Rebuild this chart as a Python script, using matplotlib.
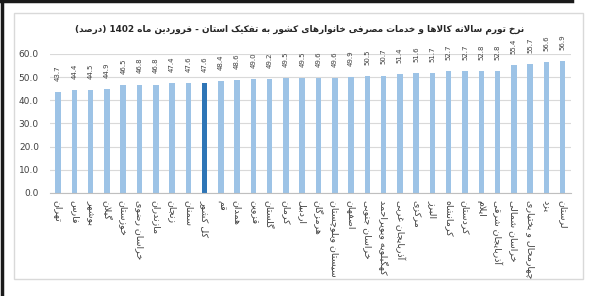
import matplotlib
matplotlib.use("Agg")
import matplotlib.pyplot as plt
from matplotlib.patches import Rectangle
from matplotlib.lines import Line2D

# data
provinces = ["تهران", "فارس", "بوشهر", "گیلان", "خوزستان", "خراسان رضوی",
             "مازندران", "زنجان", "سمنان", "کل کشور", "قم", "همدان", "قزوین",
             "گلستان", "کرمان", "اردبیل", "هرمزگان", "سیستان وبلوچستان",
             "اصفهان", "خراسان جنوبی", "کهگیلویه وبویراحمد", "آذربایجان غربی",
             "مرکزی", "البرز", "کرمانشاه", "کردستان", "ایلام",
             "آذربایجان شرقی", "خراسان شمالی", "چهارمحال و بختیاری", "یزد",
             "لرستان"]
inflation = [43.7, 44.4, 44.5, 44.9, 46.5, 46.8, 46.8, 47.4, 47.6, 47.6,
             48.4, 48.6, 49.0, 49.2, 49.5, 49.5, 49.6, 49.6, 49.9, 50.5,
             50.7, 51.4, 51.6, 51.7, 52.7, 52.7, 52.8, 52.8, 55.4, 55.7,
             56.6, 56.9]
total_label = "کل کشور"
title = "نرخ تورم سالانه کالاها و خدمات مصرفی خانوارهای کشور به تفکیک استان - فروردین ماه 1402 (درصد)"

# presentation forms: isolated, final, initial, medial
FORMS = {
    'ا': (0xFE8D, 0xFE8E, None, None), 'آ': (0xFE81, 0xFE82, None, None),
    'ب': (0xFE8F, 0xFE90, 0xFE91, 0xFE92), 'پ': (0xFB56, 0xFB57, 0xFB58, 0xFB59),
    'ت': (0xFE95, 0xFE96, 0xFE97, 0xFE98), 'ث': (0xFE99, 0xFE9A, 0xFE9B, 0xFE9C),
    'ج': (0xFE9D, 0xFE9E, 0xFE9F, 0xFEA0), 'چ': (0xFB7A, 0xFB7B, 0xFB7C, 0xFB7D),
    'ح': (0xFEA1, 0xFEA2, 0xFEA3, 0xFEA4), 'خ': (0xFEA5, 0xFEA6, 0xFEA7, 0xFEA8),
    'د': (0xFEA9, 0xFEAA, None, None), 'ذ': (0xFEAB, 0xFEAC, None, None),
    'ر': (0xFEAD, 0xFEAE, None, None), 'ز': (0xFEAF, 0xFEB0, None, None),
    'ژ': (0xFB8A, 0xFB8B, None, None),
    'س': (0xFEB1, 0xFEB2, 0xFEB3, 0xFEB4), 'ش': (0xFEB5, 0xFEB6, 0xFEB7, 0xFEB8),
    'ص': (0xFEB9, 0xFEBA, 0xFEBB, 0xFEBC), 'ض': (0xFEBD, 0xFEBE, 0xFEBF, 0xFEC0),
    'ط': (0xFEC1, 0xFEC2, 0xFEC3, 0xFEC4), 'ظ': (0xFEC5, 0xFEC6, 0xFEC7, 0xFEC8),
    'ع': (0xFEC9, 0xFECA, 0xFECB, 0xFECC), 'غ': (0xFECD, 0xFECE, 0xFECF, 0xFED0),
    'ف': (0xFED1, 0xFED2, 0xFED3, 0xFED4), 'ق': (0xFED5, 0xFED6, 0xFED7, 0xFED8),
    'ک': (0xFB8E, 0xFB8F, 0xFB90, 0xFB91), 'گ': (0xFB92, 0xFB93, 0xFB94, 0xFB95),
    'ل': (0xFEDD, 0xFEDE, 0xFEDF, 0xFEE0), 'م': (0xFEE1, 0xFEE2, 0xFEE3, 0xFEE4),
    'ن': (0xFEE5, 0xFEE6, 0xFEE7, 0xFEE8), 'ه': (0xFEE9, 0xFEEA, 0xFEEB, 0xFEEC),
    'و': (0xFEED, 0xFEEE, None, None), 'ی': (0xFBFC, 0xFBFD, 0xFBFE, 0xFBFF),
}


def shape(s):
    # join letters, lam-alef ligature, then put in visual order
    chars = list(s)
    out = []
    i = 0
    while i < len(chars):
        c = chars[i]
        if c not in FORMS:
            out.append(c)
            i += 1
            continue
        prev = chars[i - 1] if i > 0 else None
        joins_prev = prev in FORMS and FORMS[prev][2] is not None
        if c == 'ل' and i + 1 < len(chars) and chars[i + 1] == 'ا':
            out.append(chr(0xFEFC if joins_prev else 0xFEFB))
            i += 2
            continue
        nxt = chars[i + 1] if i + 1 < len(chars) else None
        joins_next = nxt in FORMS and FORMS[c][2] is not None
        f = FORMS[c]
        if joins_prev and joins_next:
            out.append(chr(f[3]))
        elif joins_prev:
            out.append(chr(f[1]))
        elif joins_next:
            out.append(chr(f[2]))
        else:
            out.append(chr(f[0]))
        i += 1
    vis = out[::-1]
    mirror = {'(': ')', ')': '('}
    vis = [mirror.get(c, c) for c in vis]
    # put digit runs back in reading order
    res = []
    run = []
    for c in vis:
        if c.isdigit():
            run.append(c)
        else:
            res.extend(run[::-1])
            run = []
            res.append(c)
    res.extend(run[::-1])
    return "".join(res)


plt.rcParams['font.family'] = ['DejaVu Sans']

fig = plt.figure(figsize=(6, 2.96), dpi=100)
ax = fig.add_axes([0.0833, 0.348, 0.868, 0.4696])

x = list(range(len(provinces)))
colors = ['#2e75b6' if p == total_label else '#9dc3e6' for p in provinces]
bars = ax.bar(x, inflation, width=0.34, color=colors, zorder=2)

for xi, v in zip(x, inflation):
    ax.annotate("%.1f" % v, (xi, v), xytext=(0, 8), textcoords='offset points',
                rotation=90, ha='center', va='bottom', fontsize=5,
                color='#404040')

ax.set_xlim(-0.5, len(provinces) - 0.5)
ax.set_ylim(0, 60)
ax.set_yticks([0, 10, 20, 30, 40, 50, 60])
ax.set_yticklabels(["%.1f" % t for t in [0, 10, 20, 30, 40, 50, 60]])
ax.tick_params(axis='y', length=0, pad=8, labelsize=6.5, labelcolor='#404040')
ax.set_xticks(x)
ax.set_xticklabels([shape(p) for p in provinces], rotation=-90, fontsize=6.8,
                   color='#404040', va='top')
ax.tick_params(axis='x', length=0, pad=5)
ax.grid(axis='y', color='#d9d9d9', linewidth=0.8, zorder=0)
for side in ['top', 'right', 'left']:
    ax.spines[side].set_visible(False)
ax.spines['bottom'].set_color('#bfbfbf')
ax.spines['bottom'].set_linewidth(0.8)

fig.text(0.5, 0.902, shape(title), ha='center', va='center', fontsize=6.4,
         fontweight='bold', color='#262626')

# chart frame and screenshot border
fig.patches.append(Rectangle((14 / 600, 1 - 279 / 296), 569 / 600, 266 / 296,
                             transform=fig.transFigure, fill=False,
                             edgecolor='#d9d9d9', linewidth=1))
fig.lines.append(Line2D([0, 572 / 600], [0.995, 0.995], transform=fig.transFigure,
                        color='#1a1a1a', linewidth=2.5))
fig.lines.append(Line2D([0.003, 0.003], [0, 1], transform=fig.transFigure,
                        color='#1a1a1a', linewidth=2.5))

fig.savefig("out.png", dpi=100)
